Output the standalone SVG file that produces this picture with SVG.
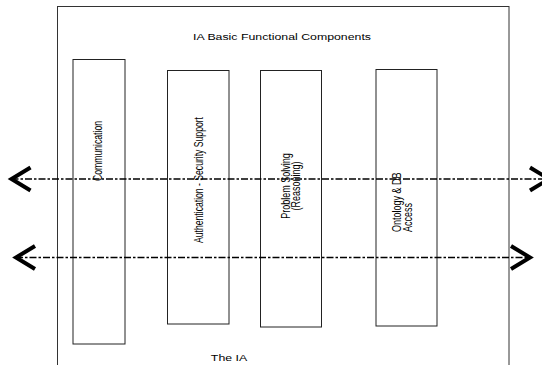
<svg xmlns="http://www.w3.org/2000/svg" width="542" height="365" viewBox="0 0 542 365">
  <style>
    .frame { fill: #fff; stroke: #333; stroke-width: 1; }
    .box { fill: none; stroke: #222; stroke-width: 1; }
    .lbl { font-family: "Liberation Sans", Arial, sans-serif; font-size: 9px; fill: #000; }
    .bus { fill: none; stroke: #000; stroke-width: 1.7; stroke-dasharray: 7 2 2.5 2; }
  </style>
  <defs>
    <marker id="chevron" markerUnits="userSpaceOnUse" viewBox="0 0 26 28" markerWidth="26" markerHeight="28" refX="22" refY="13.5" orient="auto-start-reverse" overflow="visible">
      <path d="M3,2 L22,13.5 L3,25" fill="none" stroke="#000" stroke-width="4" stroke-dasharray="none" stroke-linejoin="miter"/>
    </marker>
  </defs>

  <rect width="542" height="365" fill="#fff"/>

  <!-- the IA enclosure -->
  <g id="ia-frame">
    <rect class="frame" x="57.5" y="6.5" width="451.5" height="370"/>
    <text class="lbl" transform="matrix(1.37,0,0,1,282,40)" text-anchor="middle" font-size="9.3">IA Basic Functional Components</text>
    <text class="lbl" transform="matrix(1.37,0,0,1,229,361)" text-anchor="middle" font-size="9.3">The IA</text>
  </g>

  <g id="communication">
    <rect class="box" x="73" y="59.5" width="52" height="284.5"/>
    <text class="lbl" transform="matrix(0,-1,1.37,0,102,151)" text-anchor="middle" textLength="60" lengthAdjust="spacingAndGlyphs">Communication</text>
  </g>

  <g id="authentication">
    <rect class="box" x="167.5" y="70.5" width="61.5" height="253.5"/>
    <text class="lbl" transform="matrix(0,-1,1.37,0,203,180)" text-anchor="middle" textLength="126" lengthAdjust="spacingAndGlyphs">Authentication - Security Support</text>
  </g>

  <g id="problem-solving">
    <rect class="box" x="260.5" y="70.5" width="61" height="256.5"/>
    <text class="lbl" transform="matrix(0,-1,1.37,0,290,186)" text-anchor="middle">Problem Solving</text>
    <text class="lbl" transform="matrix(0,-1,1.37,0,299.5,186)" text-anchor="middle">(Reasoning)</text>
  </g>

  <g id="ontology">
    <rect class="box" x="376" y="69.5" width="61" height="256.5"/>
    <text class="lbl" transform="matrix(0,-1,1.37,0,401,232)" text-anchor="start">Ontology &amp; DB</text>
    <text class="lbl" transform="matrix(0,-1,1.37,0,412,232)" text-anchor="start">Access</text>
  </g>

  <!-- two-way communication buses crossing all components -->
  <g id="connectors">
    <line class="bus" x1="11.5" y1="179" x2="549" y2="179" marker-start="url(#chevron)" marker-end="url(#chevron)"/>
    <line class="bus" x1="16" y1="257.5" x2="530" y2="257.5" marker-start="url(#chevron)" marker-end="url(#chevron)"/>
  </g>
</svg>
